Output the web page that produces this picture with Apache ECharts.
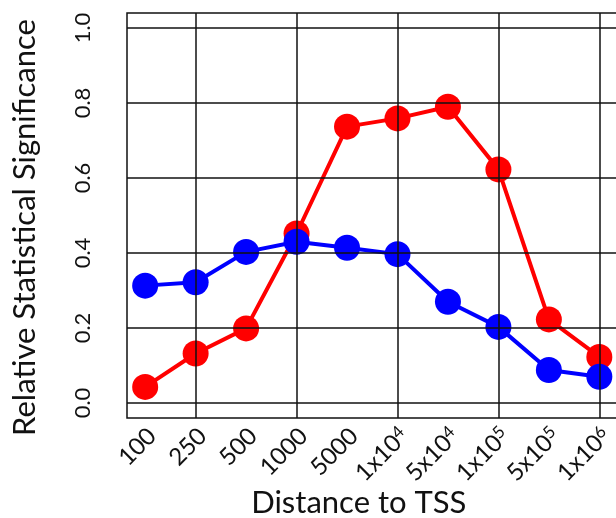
<!DOCTYPE html>
<html>
<head>
<meta charset="utf-8">
<script src="https://cdn.jsdelivr.net/npm/echarts@6/dist/echarts.min.js"></script>
<style>
  html, body { margin: 0; padding: 0; background: #fff; }
  #chart { width: 616px; height: 518px; }
</style>
</head>
<body>
<div id="chart"></div>
<script>
// Distance bins (x positions 1..10) and their tick labels; "^" marks an exponent
var distanceBins = [1, 2, 3, 4, 5, 6, 7, 8, 9, 10];
var tickLabels = ['100', '250', '500', '1000', '5000', '1x10^4', '5x10^4', '1x10^5', '5x10^5', '1x10^6'];

// Relative statistical significance for each bin
var redValues  = [0.043, 0.132, 0.199, 0.452, 0.737, 0.759, 0.790, 0.623, 0.223, 0.123];
var blueValues = [0.313, 0.322, 0.403, 0.430, 0.414, 0.397, 0.270, 0.203, 0.088, 0.070];

// Reference lines
var yTicks = [0, 0.2, 0.4, 0.6, 0.8, 1.0];
var xGridBins = [2, 4, 6, 8, 10];

var FONT = 'Lato, "Open Sans", sans-serif';

function pairs(values) {
  return distanceBins.map(function (x, i) { return [x, values[i]]; });
}

function richLabel(text) {
  var parts = text.split('^');
  return parts.length > 1 ? parts[0] + '{sup|' + parts[1] + '}' : text;
}

var gridMarks = [];
xGridBins.forEach(function (x) { gridMarks.push({ xAxis: x }); });
yTicks.forEach(function (y) { gridMarks.push({ yAxis: y }); });

var chart = echarts.init(document.getElementById('chart'), null, { renderer: 'canvas' });

chart.setOption({
  backgroundColor: '#ffffff',
  animation: false,
  grid: {
    left: 127, top: 13, width: 490.5, height: 405,
    outerBoundsMode: 'none', containLabel: false,
    show: true, borderColor: '#111', borderWidth: 1.5, backgroundColor: 'transparent'
  },
  xAxis: {
    type: 'value', min: 0.64, max: 10.36,
    axisLine: { show: false }, axisTick: { show: false }, splitLine: { show: false },
    axisLabel: {
      customValues: distanceBins,
      rotate: 45, margin: 7,
      padding: [20, 0, 0, 0],
      fontFamily: FONT, fontSize: 24, color: '#111',
      formatter: function (v) { return richLabel(tickLabels[Math.round(v) - 1]); },
      rich: { sup: { fontFamily: FONT, fontSize: 17, verticalAlign: 'top', color: '#111', padding: [0, 0, 9, 0] } }
    },
    name: 'Distance to TSS', nameLocation: 'middle', nameGap: 69, nameMoveOverlap: false,
    nameTextStyle: { fontFamily: FONT, fontSize: 31, color: '#111', padding: [0, 27, 0, 0] }
  },
  yAxis: {
    type: 'value', min: -0.04, max: 1.04,
    axisLine: { show: false }, axisTick: { show: false }, splitLine: { show: false },
    axisLabel: {
      customValues: yTicks,
      rotate: 90, margin: 33,
      fontFamily: FONT, fontSize: 22, color: '#111',
      formatter: function (v) { return v.toFixed(1); }
    },
    name: 'Relative Statistical Significance', nameLocation: 'middle', nameGap: 87, nameRotate: 90,
    nameMoveOverlap: false,
    nameTextStyle: { fontFamily: FONT, fontSize: 31, color: '#111', padding: [0, 24, 0, 0] }
  },
  series: [
    {
      type: 'line', data: [], silent: true, z: 1,
      markLine: {
        silent: true, symbol: 'none', label: { show: false },
        lineStyle: { color: '#111', width: 1.5, type: 'solid' },
        data: gridMarks
      }
    },
    {
      type: 'line', data: pairs(redValues), z: 3,
      symbol: 'circle', symbolSize: 26,
      lineStyle: { color: '#ff0000', width: 4 },
      itemStyle: { color: '#ff0000' }
    },
    {
      type: 'line', data: pairs(blueValues), z: 4,
      symbol: 'circle', symbolSize: 26,
      lineStyle: { color: '#0000ff', width: 4 },
      itemStyle: { color: '#0000ff' }
    }
  ]
});
</script>
</body>
</html>
